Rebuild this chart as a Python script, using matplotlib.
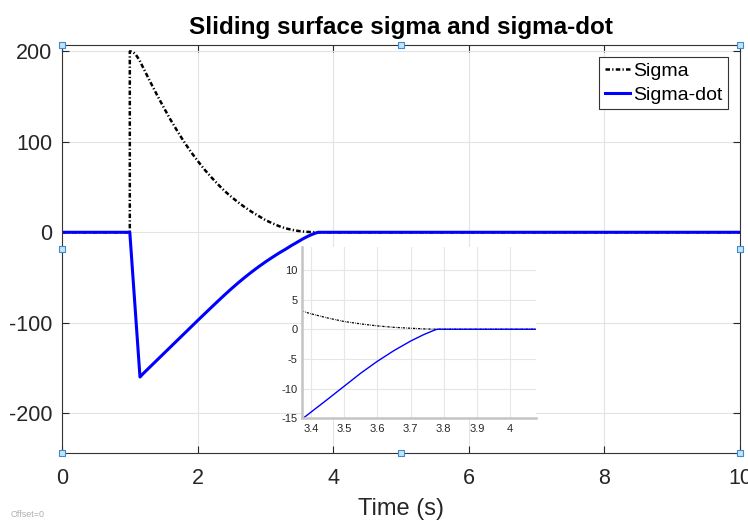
import matplotlib
matplotlib.use("Agg")
import matplotlib.pyplot as plt

plt.rcParams['font.family'] = ['Liberation Sans', 'DejaVu Sans']
plt.rcParams['axes.unicode_minus'] = False

# values
t = [0.0, 1.0, 1.0, 1.02, 1.05, 1.08, 1.11, 1.15, 1.2, 1.25, 1.3, 1.4, 1.5, 1.6, 1.7,
     1.8, 1.9, 2.0, 2.1, 2.2, 2.3, 2.4, 2.5, 2.6, 2.7, 2.8, 2.9, 3.0, 3.1, 3.2, 3.3,
     3.4, 3.45, 3.5, 3.55, 3.6, 3.65, 3.7, 3.74, 3.78, 10.0]
sigma = [0, 0, 200, 199.8, 199, 197, 194, 189, 181.5, 174, 166.5, 152, 138, 124.5, 112,
         100, 89, 79, 69.5, 61, 53, 45.5, 39, 33, 27.5, 22.5, 18, 13.5, 10, 6.8, 4.3,
         2.6, 1.9, 1.3, 0.9, 0.56, 0.32, 0.17, 0.06, 0, 0]

t_dot = [0.0, 1.0, 1.15, 1.2, 1.3, 1.4, 1.5, 1.6, 1.7, 1.8, 1.9, 2.0, 2.1, 2.2, 2.3,
         2.4, 2.5, 2.6, 2.7, 2.8, 2.9, 3.0, 3.1, 3.2, 3.3, 3.376, 3.45, 3.5,
         3.55, 3.6, 3.65, 3.7, 3.74, 3.77, 3.78, 10.0]
sigma_dot = [0, 0, -160, -156, -148.7, -141.4, -134.1, -126.8, -119.5, -112.2, -104.9,
             -97.6, -90.4, -83.2, -76.1, -69.1, -62.3, -55.8, -49.6, -43.7, -38.1,
             -32.8, -27.8, -23.0, -18.6, -15, -11.8, -9.6, -7.4, -5.4, -3.6, -2.0,
             -0.9, -0.2, 0, 0]

txt = '#262626'

fig = plt.figure(figsize=(7.48, 5.21), dpi=100)
ax = fig.add_axes([0.0829, 0.1305, 0.9064, 0.7831])
ax.plot(t, sigma, color='black', linestyle=(0, (1.8, 0.9, 0.5, 0.9)), linewidth=1.8,
        label='Sigma')
ax.plot(t_dot, sigma_dot, color='blue', linewidth=2.2, label='Sigma-dot')
ax.set_xlim(0, 10)
ax.set_ylim(-244, 207)
ax.set_xticks([0, 2, 4, 6, 8, 10])
ax.set_yticks([-200, -100, 0, 100, 200])
ax.grid(True, color='#e3e3e3', linewidth=0.8)
ax.tick_params(direction='in', top=True, right=True, labelsize=15.5, colors=txt, length=5)
ax.tick_params(axis='x', pad=11)
ax.tick_params(axis='y', pad=7)
for s in ax.spines.values():
    s.set_color('#333333')
ax.set_xlabel('Time (s)', fontsize=17, color=txt, labelpad=6)
ax.set_title('Sliding surface sigma and sigma-dot', fontsize=17.5, fontweight='bold', pad=8)
leg = ax.legend(loc='upper right', fontsize=14, fancybox=False, framealpha=1,
                edgecolor='#333333', handlelength=1.3, handletextpad=0.15,
                borderpad=0.3, labelspacing=0.3, borderaxespad=0.6)
leg.get_frame().set_linewidth(0.8)

# selection handles around the axes
hx = [0, 0.5, 1, 0, 1, 0, 0.5, 1]
hy = [1, 1, 1, 0.5, 0.5, 0, 0, 0]
ax.scatter(hx, hy, marker='s', s=22, facecolor='#c5e3f6', edgecolor='#3d8ccf',
           linewidth=0.8, transform=ax.transAxes, clip_on=False, zorder=10)

# inset zoom
ins = fig.add_axes([0.4033, 0.1971, 0.3132, 0.3294])
ins.plot(t, sigma, color='black', linestyle=(0, (1.8, 0.9, 0.5, 0.9)), linewidth=0.9)
ins.plot(t_dot, sigma_dot, color='blue', linewidth=1.0)
ins.set_xlim(3.372, 4.078)
ins.set_ylim(-15, 13.9)
ins.set_xticks([3.4, 3.5, 3.6, 3.7, 3.8, 3.9, 4])
ins.set_xticklabels(['3.4', '3.5', '3.6', '3.7', '3.8', '3.9', '4'])
ins.set_yticks([-15, -10, -5, 0, 5, 10])
ins.grid(True, color='#e6e6e6', linewidth=0.8)
ins.tick_params(labelsize=8, colors=txt, length=0)
ins.tick_params(axis='x', pad=4)
ins.tick_params(axis='y', pad=3)
ins.spines['top'].set_visible(False)
ins.spines['right'].set_visible(False)
ins.spines['left'].set_color('#c4c4c4')
ins.spines['left'].set_linewidth(1.8)
ins.spines['bottom'].set_color('#c4c4c4')
ins.spines['bottom'].set_linewidth(1.8)

fig.text(0.014, 0.012, 'Offset=0', fontsize=6.5, color='#b0b0b0', va='center')

fig.savefig('out.png', dpi=100)
